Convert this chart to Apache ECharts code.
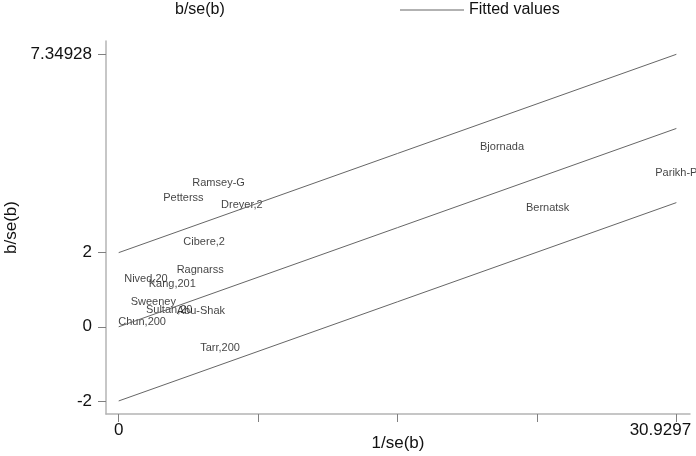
<!DOCTYPE html>
<html>
<head>
<meta charset="utf-8">
<script src="https://cdn.jsdelivr.net/npm/echarts@6/dist/echarts.min.js"></script>
<style>html,body{margin:0;padding:0;background:#fff;overflow:hidden;}#c{width:696px;height:456px;}</style>
</head>
<body>
<div id="c"></div>
<script>
// Study labels (trial id) and Galbraith coordinates
const studies = ['Bjornada','Parikh-P','Bernatsk','Ramsey-G','Petterss','Dreyer,2','Cibere,2','Ragnarss','Nived,20','Kang,201','Sweeney','Sultan,20','Abu-Shak','Chun,200','Tarr,200'];
const precision = [21.26, 30.9297, 23.79, 5.54, 3.59, 6.83, 4.74, 4.52, 1.51, 2.97, 1.92, 2.80, 4.56, 1.30, 5.62];   // 1/se(b)
const zScore   = [4.84, 4.156, 3.196, 3.886, 3.482, 3.285, 2.287, 1.524, 1.289, 1.154, 0.677, 0.453, 0.426, 0.121, -0.572]; // b/se(b)

// Fitted line (through origin) and +/-2 bands, endpoints
const fitX     = [0, 30.9297];
const fitUpper = [2, 7.34928];
const fitMid   = [0, 5.34928];
const fitLower = [-2, 3.34928];

// Tick labels
const yTicks = [-2, 0, 2, 7.34928];
const xTicks = [0, 7.732425, 15.46485, 23.197275, 30.9297];
const xTickLabels = [0, 30.9297];

const font = 'Liberation Sans, Arial, Helvetica, sans-serif';
const pts = studies.map((s, i) => ({ name: s, value: [precision[i], zScore[i]] }));
const mk = arr => fitX.map((x, i) => [x, arr[i]]);
const lineStyle = { color: '#666', width: 1 };

const chart = echarts.init(document.getElementById('c'), null, { renderer: 'canvas' });
chart.setOption({
  animation: false,
  backgroundColor: '#fff',
  textStyle: { fontFamily: font },
  grid: { left: 106, right: 6, top: 41, bottom: 42, containLabel: false, outerBoundsMode: 'none' },
  legend: [
    { data: [{ name: 'b/se(b)', icon: 'none' }], left: 170, top: 2, padding: 0, itemWidth: 0, itemHeight: 1,
      textStyle: { fontFamily: font, fontSize: 16, color: '#111' }, selectedMode: false },
    { data: [{ name: 'Fitted values', icon: 'rect' }], left: 400, top: 2, padding: 0, itemWidth: 64, itemHeight: 1,
      itemStyle: { color: '#666' }, textStyle: { fontFamily: font, fontSize: 16, color: '#111' }, selectedMode: false }
  ],
  xAxis: {
    type: 'value', min: -0.704, max: 31.686,
    name: '1/se(b)', nameLocation: 'middle', nameGap: 21, nameMoveOverlap: false,
    nameTextStyle: { fontFamily: font, fontSize: 17, color: '#111' },
    axisLine: { show: true, onZero: false, lineStyle: { color: '#b4b4b4', width: 1.5 } },
    axisTick: { show: true, length: 8, customValues: xTicks, lineStyle: { color: '#808080' } },
    axisLabel: { customValues: xTickLabels, margin: 8, fontSize: 17, color: '#111', fontFamily: font,
      formatter: v => (v > 30 ? '{r|' + v + '}' : String(v)),
      rich: { r: { fontSize: 17, color: '#111', fontFamily: font, padding: [0, 32, 0, 0] } } },
    splitLine: { show: false }
  },
  yAxis: {
    type: 'value', min: -2.352, max: 7.708,
    name: 'b/se(b)', nameLocation: 'middle', nameGap: 86, nameMoveOverlap: false,
    nameTextStyle: { fontFamily: font, fontSize: 17, color: '#111' },
    axisLine: { show: true, onZero: false, lineStyle: { color: '#b4b4b4', width: 1.5 } },
    axisTick: { show: true, length: 8, customValues: yTicks, lineStyle: { color: '#808080' } },
    axisLabel: { customValues: yTicks, margin: 14, fontSize: 17, color: '#111', fontFamily: font,
      formatter: v => String(v) },
    splitLine: { show: false }
  },
  series: [
    { name: 'b/se(b)', type: 'scatter', data: pts, symbolSize: 1,
      itemStyle: { color: 'rgba(0,0,0,0)' },
      label: { show: true, position: 'inside', formatter: p => p.name, fontSize: 11, color: '#111', fontFamily: font },
      emphasis: { disabled: true } },
    { name: 'Fitted values', type: 'line', data: mk(fitUpper), showSymbol: false, lineStyle, itemStyle: { color: '#666' } },
    { name: 'Fitted values', type: 'line', data: mk(fitMid), showSymbol: false, lineStyle, itemStyle: { color: '#666' } },
    { name: 'Fitted values', type: 'line', data: mk(fitLower), showSymbol: false, lineStyle, itemStyle: { color: '#666' } }
  ]
});
</script>
</body>
</html>
